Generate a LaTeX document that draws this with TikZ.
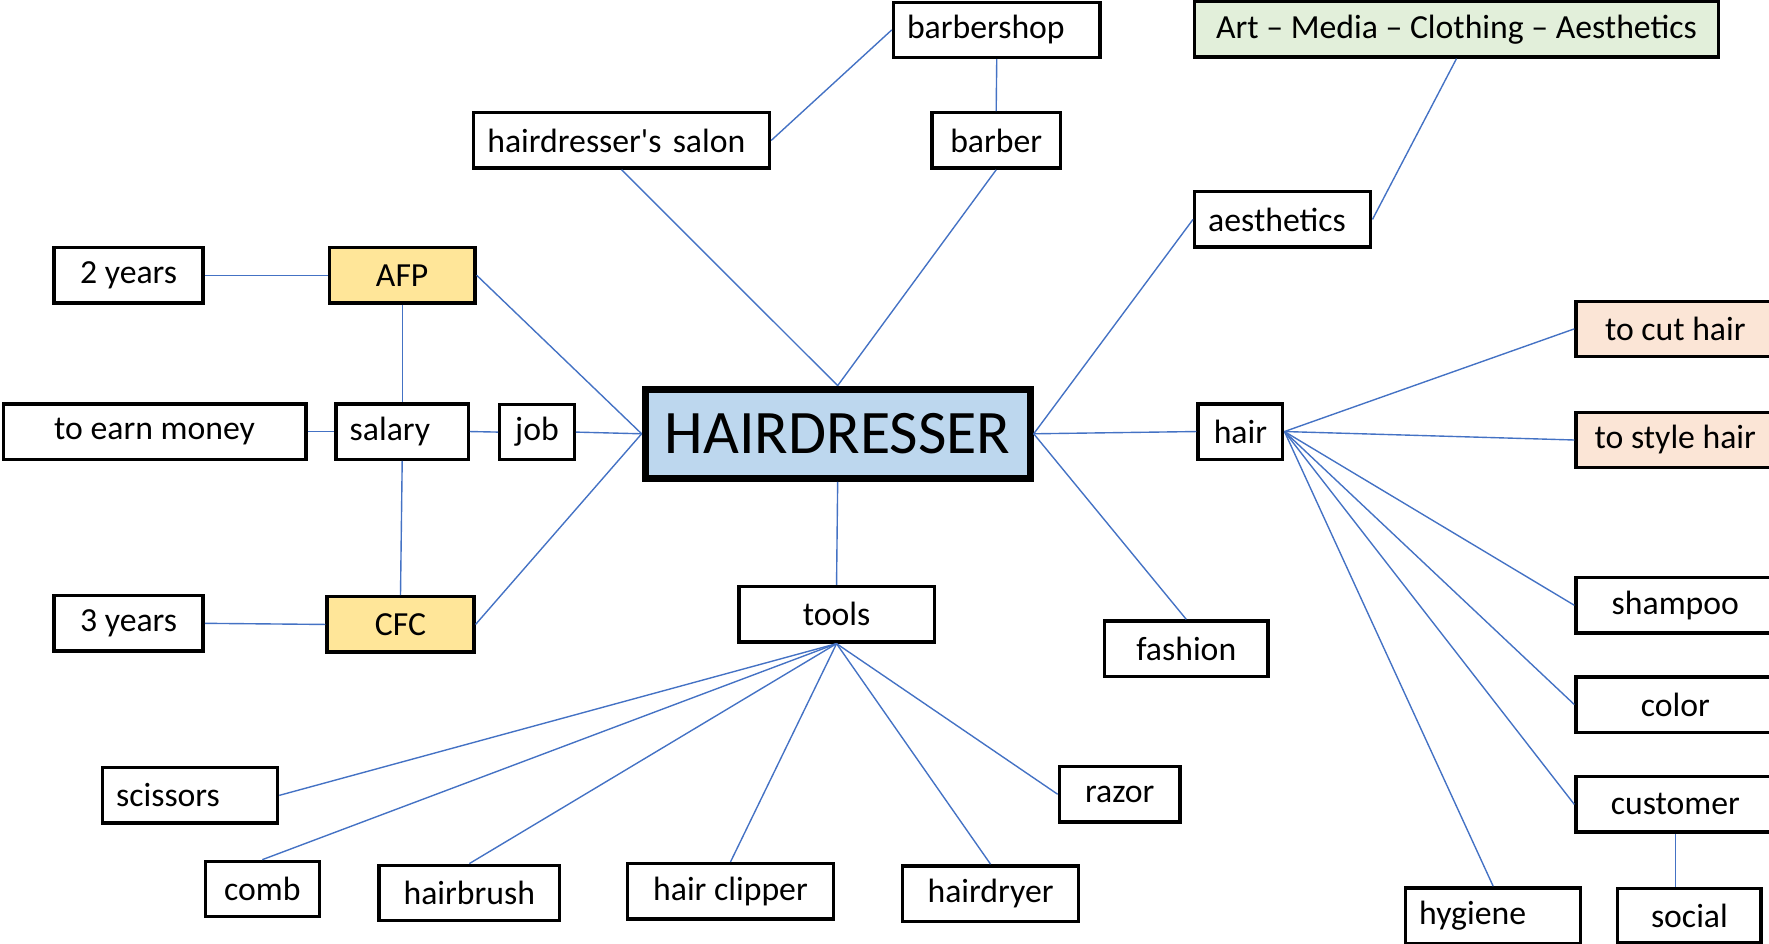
\documentclass[tikz,border=0pt]{standalone}
\usepackage{fontspec}
\setmainfont{Carlito}
\definecolor{linkblue}{HTML}{4472C4}
\definecolor{hubblue}{HTML}{BDD7EE}
\definecolor{certyellow}{HTML}{FFE699}
\definecolor{artgreen}{HTML}{E2EFDA}
\definecolor{actpeach}{HTML}{FBE5D6}
\tikzset{
  box/.style={draw, line width=0.85pt, minimum height=0.49cm, inner xsep=0.12cm, inner ysep=0pt,
    font=\fontsize{8.5}{10}\selectfont},
  cbox/.style={box, minimum width=#1},
  lbox/.style={box, text width=#1, align=left},
  link/.style={draw=linkblue, line width=0.35pt}
}
\begin{document}
\begin{tikzpicture}[x=0.01cm,y=-0.01cm]
        \useasboundingbox (0,0) rectangle (1568,836);
        % centre
        \node[box, fill=hubblue, line width=1.8pt, minimum width=3.41cm, minimum height=0.79cm,
              font=\fontsize{15.6}{18}\selectfont] (hd) at (742.5,384.5) {HAIRDRESSER};
        % top
        \node[lbox=1.59cm] (barbershop) at (883.5,26.5) {barbershop};
        \node[lbox=2.38cm] (salon) at (551,124.5) {hairdresser\textquotesingle s salon};
        \node[cbox=1.14cm] (barber) at (883,124.5) {barber};
        \node[cbox=4.64cm, fill=artgreen] (art) at (1291,26) {Art -- Media -- Clothing -- Aesthetics};
        \node[lbox=1.32cm] (aesth) at (1137,194.5) {aesthetics};
        % left
        \node[cbox=1.32cm] (twoy) at (114,244) {2 years};
        \node[cbox=1.29cm, fill=certyellow] (afp) at (356.5,244) {AFP};
        \node[cbox=2.68cm] (money) at (137,382.5) {to earn money};
        \node[lbox=0.93cm] (salary) at (356.5,382.5) {salary};
        \node[cbox=0.66cm] (job) at (476,383) {job};
        \node[cbox=1.32cm] (threey) at (114,552.5) {3 years};
        \node[cbox=1.30cm, fill=certyellow] (cfc) at (355,553.5) {CFC};
        % right
        \node[cbox=0.75cm] (hair) at (1099.5,382.5) {hair};
        \node[cbox=1.45cm] (fashion) at (1051.5,575) {fashion};
        \node[cbox=1.76cm, fill=actpeach] (cut) at (1485,291.5) {to cut hair};
        \node[cbox=1.76cm, fill=actpeach] (style) at (1485,390) {to style hair};
        \node[cbox=1.76cm] (shampoo) at (1485,536.5) {shampoo};
        \node[cbox=1.76cm] (color) at (1485,624.5) {color};
        \node[cbox=1.76cm] (customer) at (1485,713) {customer};
        \node[lbox=1.31cm] (hygiene) at (1323.5,811.5) {hygiene};
        \node[cbox=1.27cm, minimum height=0.48cm] (social) at (1497.5,811.5) {social};
        % bottom
        \node[cbox=1.73cm] (tools) at (741.5,544.5) {tools};
        \node[lbox=1.31cm] (scissors) at (168.5,705) {scissors};
        \node[cbox=1.01cm] (comb) at (232.5,788) {comb};
        \node[cbox=1.60cm] (brush) at (416,791.5) {hairbrush};
        \node[cbox=1.83cm] (clipper) at (647.5,790) {hair clipper};
        \node[cbox=1.56cm] (dryer) at (878,792) {hairdryer};
        \node[cbox=1.07cm] (razor) at (992.5,704) {razor};

        \draw[link] (salon.east) -- (barbershop.west);
        \draw[link] (barbershop.south) -- (barber.north);
        \draw[link] (salon.south) -- (hd.north);
        \draw[link] (barber.south) -- (hd.north);
        \draw[link] (twoy.east) -- (afp.west);
        \draw[link] (afp.south) -- (salary.north);
        \draw[link] (money.east) -- (salary.west);
        \draw[link] (salary.east) -- (job.west);
        \draw[link] (salary.south) -- (cfc.north);
        \draw[link] (threey.east) -- (cfc.west);
        \foreach \n in {afp,job,cfc}
            \draw[link] (\n.east) -- (hd.west);
        \draw[link] (hd.south) -- (tools.north);
        \draw[link] (hd.east) -- (aesth.west);
        \draw[link] (aesth.east) -- (art.south);
        \draw[link] (hd.east) -- (hair.west);
        \draw[link] (hd.east) -- (fashion.north);
        \foreach \n in {cut,style,shampoo,color,customer}
            \draw[link] (hair.east) -- (\n.west);
        \draw[link] (hair.east) -- (hygiene.north);
        \draw[link] (customer.south) -- (customer.south |- social.north);
        \draw[link] (tools.south) -- (scissors.east);
        \draw[link] (tools.south) -- (razor.west);
        \foreach \n in {comb,brush,clipper,dryer}
            \draw[link] (tools.south) -- (\n.north);
\end{tikzpicture}
\end{document}
